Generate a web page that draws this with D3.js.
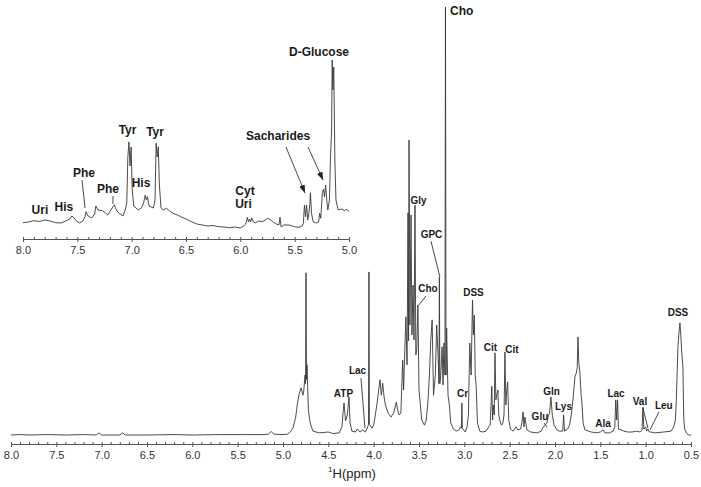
<!DOCTYPE html>
<html>
<head>
<meta charset="utf-8">
<script src="https://cdn.jsdelivr.net/npm/d3@7"></script>
<style>
body { margin: 0; background: #fff; }
svg { display: block; font-family: "Liberation Sans", Arial, sans-serif; }
.axis text { font-size: 11px; fill: #333; }
.axis path, .axis line { stroke: #555; }
.spec { fill: none; stroke: #383838; stroke-width: 0.9; stroke-linejoin: round; }
.lbl { font-weight: bold; fill: #1a1a1a; text-anchor: middle; }
.lead { stroke: #333; stroke-width: 0.9; }
</style>
</head>
<body>
<svg id="chart" width="701" height="487"></svg>
<script>
// main 1H spectrum, [ppm, intensity relative to the Cho peak = 100]
const mainSpectrum = [
  [8.00,0],[7.90,0.1],[7.80,0],[7.60,0.1],[7.40,0],[7.20,0.1],[7.06,0],[7.03,0.5],[7.00,0],
  [6.80,0],[6.77,0.5],[6.74,0],[6.50,0],[6.20,0.1],[6.00,0],[5.70,0.1],[5.40,0.1],[5.20,0.1],
  [5.16,0.2],[5.13,0.8],[5.10,0.2],[5.00,0.1],[4.95,0.2],[4.92,0.7],[4.89,1.6],[4.86,4.2],
  [4.84,7.5],[4.82,9.8],[4.80,11.0],[4.78,9.3],[4.77,10.5],[4.757,14.0],[4.751,12.0],[4.746,37.9],
  [4.741,13.0],[4.735,16.4],
  [4.72,5.8],[4.70,2.8],[4.67,0.9],[4.60,0.5],[4.50,0.7],[4.45,0.35],[4.38,0.5],[4.35,1.9],
  [4.335,5.8],[4.327,7.5],[4.31,3.3],[4.29,4.7],[4.272,8.9],[4.26,2.8],[4.24,0.9],[4.20,0.7],
  [4.18,1.4],[4.15,0.7],[4.12,1.2],[4.09,0.7],[4.065,1.9],[4.057,2.5],[4.052,38.1],[4.047,2.5],
  [4.04,2.3],[4.02,1.6],
  [4.00,2.3],[3.985,4.2],[3.965,7.0],[3.93,12.9],[3.915,9.3],[3.90,12.1],[3.885,8.9],[3.87,7.0],
  [3.84,5.1],[3.81,4.2],[3.78,5.1],[3.75,7.7],[3.735,5.8],[3.72,4.7],[3.70,5.1],[3.68,17.5],
  [3.67,10.5],[3.645,27.6],[3.632,16.4],[3.621,51.9],[3.615,22.0],[3.61,68.9],[3.60,25.7],
  [3.588,51.4],[3.578,23.4],[3.566,35.0],[3.555,22.2],[3.544,53.7],[3.535,18.7],[3.525,19.9],
  [3.512,30.4],[3.50,10.5],[3.47,3.5],[3.44,2.3],[3.42,3.5],[3.40,8.2],[3.385,14.0],[3.37,22.2],
  [3.355,26.9],[3.34,9.3],[3.32,14.0],[3.305,25.7],[3.29,18.7],[3.28,12.0],[3.275,36.9],
  [3.27,12.0],[3.26,14.0],[3.245,20.6],[3.235,11.7],[3.225,21.5],[3.214,14.0],[3.208,100],
  [3.202,14.0],[3.195,25.0],[3.18,9.3],[3.165,7.0],[3.15,2.8],
  [3.12,1.4],[3.09,0.9],[3.06,1.2],[3.04,1.9],[3.032,1.6],[3.027,7.5],[3.022,1.6],[3.015,1.4],
  [2.99,0.7],[2.97,1.9],
  [2.955,4.7],[2.94,21.5],[2.925,14.0],[2.91,31.5],[2.90,23.4],[2.89,28.0],[2.88,14.0],
  [2.87,11.7],[2.855,2.8],[2.83,0.9],[2.80,0.7],[2.76,0.9],[2.73,1.9],[2.715,2.3],[2.697,11.4],
  [2.688,3.5],[2.68,7.0],[2.67,4.7],[2.662,19.2],[2.652,8.2],[2.642,9.3],[2.63,10.5],[2.62,4.7],
  [2.61,3.5],[2.59,2.3],[2.575,2.8],[2.562,4.7],[2.552,19.4],[2.542,7.0],[2.532,10.5],
  [2.522,12.4],[2.51,3.5],[2.49,1.4],[2.46,0.9],[2.43,1.9],[2.41,1.2],[2.38,1.4],[2.365,2.8],
  [2.352,5.4],[2.342,1.9],[2.332,4.2],[2.31,1.2],[2.27,0.7],[2.20,0.5],[2.15,0.9],[2.13,1.9],
  [2.11,2.3],[2.09,2.8],[2.077,4.2],[2.06,5.1],[2.045,8.9],[2.03,4.7],[2.01,2.3],[1.98,1.2],
  [1.95,0.9],[1.915,0.9],[1.905,4.7],[1.895,0.9],[1.86,1.4],[1.84,2.3],[1.82,4.7],[1.802,8.2],
  [1.78,13.6],[1.765,14.5],[1.755,15.7],[1.747,22.9],[1.737,16.8],[1.725,14.5],[1.712,9.3],
  [1.703,7.5],[1.69,2.8],[1.67,1.2],[1.60,0.7],[1.55,0.5],[1.50,0.7],[1.47,1.2],[1.45,0.5],
  [1.40,0.5],[1.36,0.9],[1.34,1.9],[1.33,8.2],[1.32,3.5],[1.31,8.2],[1.30,1.4],[1.27,1.2],
  [1.24,0.9],[1.20,0.7],[1.15,0.7],[1.10,0.9],[1.06,0.7],[1.04,1.2],[1.03,6.5],[1.02,1.4],
  [1.00,1.9],[0.99,0.9],[0.975,1.4],[0.96,0.7],[0.94,0.7],[0.90,0.5],[0.80,0.7],[0.72,0.9],
  [0.69,1.9],[0.672,3.5],[0.662,8.0],[0.655,12.9],[0.644,20.6],[0.633,23.8],[0.622,26.2],
  [0.611,22.9],[0.60,18.7],[0.589,15.9],[0.58,4.0],[0.57,1.4],[0.55,0.5],[0.53,0],[0.50,0]
];

// aromatic region 8.0 - 5.0 ppm, expanded (arbitrary units)
const insetSpectrum = [
  [8.00,7.3],[7.95,8],[7.90,9.3],[7.85,8.5],[7.80,10],[7.75,9],[7.70,7.3],[7.65,7],[7.60,9.3],
  [7.57,11],[7.55,14],[7.53,12],[7.51,9],[7.48,7],[7.45,9],[7.43,13],[7.42,18.3],[7.40,14],
  [7.37,12],[7.34,16],[7.33,24],[7.31,20],[7.27,19.3],[7.24,17],[7.22,15],[7.18,22],[7.16,25],
  [7.14,20],[7.12,17],[7.08,14],[7.06,20],[7.045,27],[7.035,73],[7.025,88],[7.015,64],
  [7.005,83],[6.995,40],[6.98,24],[6.96,22],[6.94,20],[6.91,22],[6.89,27],[6.875,35],
  [6.865,30],[6.855,33.3],[6.84,24],[6.80,22],[6.785,30],[6.775,86.7],[6.765,73],[6.755,83.3],
  [6.745,45],[6.73,22],[6.71,20],[6.68,21.7],[6.65,19],[6.62,16.7],[6.58,15],[6.55,13.3],
  [6.50,11],[6.45,8.3],[6.40,6],[6.35,5],[6.30,4],[6.25,4.5],[6.20,3.3],[6.15,3],[6.10,2.3],
  [6.05,3],[6.00,2],[5.97,4],[5.95,6],[5.935,12.7],[5.925,8],[5.915,11],[5.905,8.3],
  [5.895,12],[5.88,8],[5.86,7.3],[5.83,9],[5.80,8.3],[5.77,10],[5.75,11.7],[5.72,10],
  [5.70,8.3],[5.67,6],[5.645,5],[5.635,12.7],[5.625,3],[5.60,5],[5.55,5],[5.50,3.3],
  [5.46,2.7],[5.43,4],[5.42,6.7],[5.41,25],[5.40,13.3],[5.39,25],[5.38,10],[5.37,16],
  [5.36,26],[5.355,37.3],[5.345,16.7],[5.33,8.3],[5.30,7],[5.28,8],[5.27,16.7],[5.26,11.7],
  [5.245,37.3],[5.235,40.7],[5.225,33.3],[5.215,45],[5.205,30],[5.195,20],[5.18,30],
  [5.17,73.3],[5.16,100],[5.155,170],[5.148,140],[5.14,163],[5.13,70],[5.12,30],[5.10,20],
  [5.07,21],[5.04,19.3],[5.02,20.7],[5.00,18.3]
];

const mainTicks = [8.0, 7.5, 7.0, 6.5, 6.0, 5.5, 5.0, 4.5, 4.0, 3.5, 3.0, 2.5, 2.0, 1.5, 1.0, 0.5];
const insetTicks = [8.0, 7.5, 7.0, 6.5, 6.0, 5.5, 5.0];

// peak assignments: [name, ppm, intensity] (label baseline position in data units)
const mainLabels = [
  ["Gly", 3.506, 54.0], ["GPC", 3.362, 46.0], ["Cho", 3.401, 33.4], ["DSS", 2.899, 32.5],
  ["Lac", 4.178, 14.3], ["ATP", 4.333, 8.9], ["Cr", 3.02, 8.9], ["Cit", 2.712, 19.6],
  ["Cit", 2.474, 19.2], ["Gln", 2.039, 9.3], ["Glu", 2.166, 3.5], ["Lys", 1.906, 5.8],
  ["Ala", 1.471, 1.9], ["Lac", 1.327, 8.9], ["Val", 1.063, 7.0], ["Leu", 0.80, 6.1],
  ["DSS", 0.644, 27.8]
];
const choLabel = ["Cho", 3.158, 98.1];
// leader lines: [ppm1, int1, ppm2, int2]
const mainLeaders = [
  [3.368, 45.3, 3.269, 36.9], [3.423, 32.5, 3.50, 30.4], [4.14, 13.3, 4.096, 1.6],
  [2.121, 2.8, 2.088, 1.9], [1.03, 6.3, 0.975, 1.6], [0.853, 5.4, 0.952, 1.2]
];

const insetLabels = [
  ["D-Glucose", 5.276, 174], ["Sacharides", 5.653, 90], ["Tyr", 7.038, 96], ["Tyr", 6.785, 94],
  ["Phe", 7.439, 53], ["Phe", 7.218, 37], ["His", 6.914, 43], ["His", 7.623, 19],
  ["Uri", 7.844, 16], ["Cyt", 5.957, 35], ["Uri", 5.971, 22]
];
const insetLeaders = [[7.457, 50, 7.429, 22], [7.172, 34, 7.172, 26]];
const insetArrows = [[5.58, 83, 5.405, 37], [5.377, 83, 5.239, 50]];

const svg = d3.select("#chart");

svg.append("defs").append("marker")
  .attr("id", "arrow")
  .attr("markerUnits", "userSpaceOnUse")
  .attr("markerWidth", 8).attr("markerHeight", 6)
  .attr("refX", 8).attr("refY", 3)
  .attr("orient", "auto")
  .append("path").attr("d", "M0,0L8,3L0,6Z").attr("fill", "#222");

function drawAxis(g, x, ticks) {
  const lo = d3.min(ticks), hi = d3.max(ticks);
  const minor = d3.range(Math.round(lo * 10), Math.round(hi * 10) + 1)
    .map(d => d / 10).filter(d => Math.round(d * 10) % 5 !== 0);
  g.append("g").attr("class", "axis")
    .call(d3.axisBottom(x).tickValues(minor).tickSize(-2).tickSizeOuter(0).tickFormat(""))
    .select(".domain").remove();
  const major = g.append("g").attr("class", "axis")
    .call(d3.axisBottom(x).tickValues(ticks).tickSizeInner(3).tickSizeOuter(0)
      .tickPadding(4).tickFormat(d3.format(".1f")));
  major.selectAll(".tick line").attr("y1", -2);
}

// ---- main spectrum
const x = d3.scaleLinear().domain([8, 0.5]).range([11, 691]);
const y = d3.scaleLinear().domain([0, 100]).range([435, 7]);
const line = d3.line().x(d => x(d[0])).y(d => y(d[1]));

svg.append("path").datum(mainSpectrum).attr("class", "spec").attr("d", line);

drawAxis(svg.append("g").attr("transform", "translate(0,444)"), x, mainTicks);

const title = svg.append("text")
  .attr("x", 352).attr("y", 478)
  .attr("text-anchor", "middle")
  .style("font-size", "13px").style("fill", "#222");
title.append("tspan").attr("dy", -6).style("font-size", "8px").text("1");
title.append("tspan").attr("dy", 6).text("H(ppm)");

svg.selectAll(".mlbl").data(mainLabels).enter().append("text")
  .attr("class", "lbl mlbl")
  .attr("x", d => x(d[1])).attr("y", d => y(d[2]))
  .style("font-size", "10px")
  .text(d => d[0]);

svg.append("text").attr("class", "lbl")
  .attr("x", x(choLabel[1])).attr("y", y(choLabel[2]))
  .style("text-anchor", "start").style("font-size", "12px")
  .text(choLabel[0]);

svg.selectAll(".mlead").data(mainLeaders).enter().append("line")
  .attr("class", "lead mlead")
  .attr("x1", d => x(d[0])).attr("y1", d => y(d[1]))
  .attr("x2", d => x(d[2])).attr("y2", d => y(d[3]));

// ---- inset
const xi = d3.scaleLinear().domain([8, 5]).range([23, 349]);
const yi = d3.scaleLinear().domain([0, 170]).range([230, 60]);
const lineI = d3.line().x(d => xi(d[0])).y(d => yi(d[1]));

svg.append("path").datum(insetSpectrum).attr("class", "spec").attr("d", lineI);

drawAxis(svg.append("g").attr("transform", "translate(0,239)"), xi, insetTicks);

svg.selectAll(".ilbl").data(insetLabels).enter().append("text")
  .attr("class", "lbl ilbl")
  .attr("x", d => xi(d[1])).attr("y", d => yi(d[2]))
  .style("font-size", "12px")
  .text(d => d[0]);

svg.selectAll(".ilead").data(insetLeaders).enter().append("line")
  .attr("class", "lead ilead")
  .attr("x1", d => xi(d[0])).attr("y1", d => yi(d[1]))
  .attr("x2", d => xi(d[2])).attr("y2", d => yi(d[3]));

svg.selectAll(".iarrow").data(insetArrows).enter().append("line")
  .attr("class", "lead iarrow")
  .attr("x1", d => xi(d[0])).attr("y1", d => yi(d[1]))
  .attr("x2", d => xi(d[2])).attr("y2", d => yi(d[3]))
  .attr("marker-end", "url(#arrow)");
</script>
</body>
</html>
